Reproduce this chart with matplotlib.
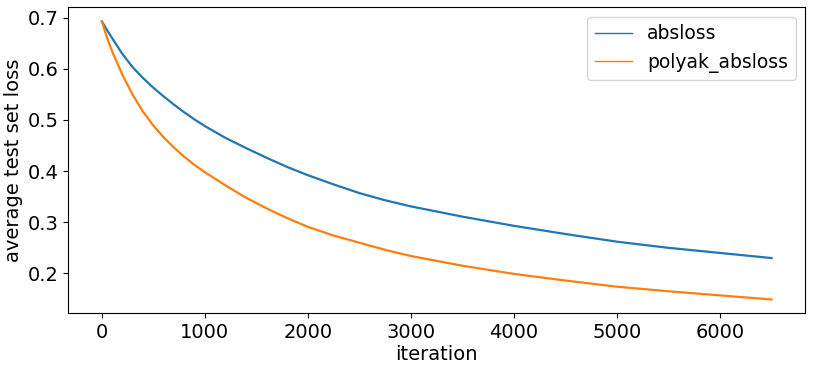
import matplotlib.pyplot as plt

iterations = [0, 50, 100, 200, 300, 400, 500, 600, 700, 800, 900, 1000, 1200,
              1400, 1600, 1800, 2000, 2250, 2500, 2750, 3000, 3500, 4000,
              4500, 5000, 5500, 6000, 6500]

absloss = [0.693, 0.676, 0.660, 0.629, 0.603, 0.582, 0.563, 0.546, 0.530,
           0.515, 0.501, 0.488, 0.465, 0.445, 0.426, 0.408, 0.392, 0.374,
           0.357, 0.343, 0.331, 0.311, 0.293, 0.277, 0.262, 0.250, 0.240,
           0.230]

polyak_absloss = [0.693, 0.661, 0.634, 0.588, 0.549, 0.516, 0.489, 0.466,
                  0.446, 0.428, 0.412, 0.398, 0.372, 0.348, 0.327, 0.308,
                  0.291, 0.274, 0.260, 0.246, 0.234, 0.215, 0.199, 0.186,
                  0.174, 0.165, 0.157, 0.149]

plt.rcParams['font.size'] = 14

fig, ax = plt.subplots(figsize=(8.14, 3.7), dpi=100)
ax.plot(iterations, absloss, label='absloss', color='#1f77b4', linewidth=1.6)
ax.plot(iterations, polyak_absloss, label='polyak_absloss', color='#ff7f0e', linewidth=1.6)

ax.set_xlabel('iteration', labelpad=2)
ax.set_ylabel('average test set loss', labelpad=3)
ax.set_xticks([0, 1000, 2000, 3000, 4000, 5000, 6000])
leg = ax.legend(loc='upper right', fontsize=13.5)
for line in leg.get_lines():
    line.set_linewidth(1.0)

fig.subplots_adjust(left=0.084, right=0.989, top=0.98, bottom=0.153)
fig.savefig('out.png')
